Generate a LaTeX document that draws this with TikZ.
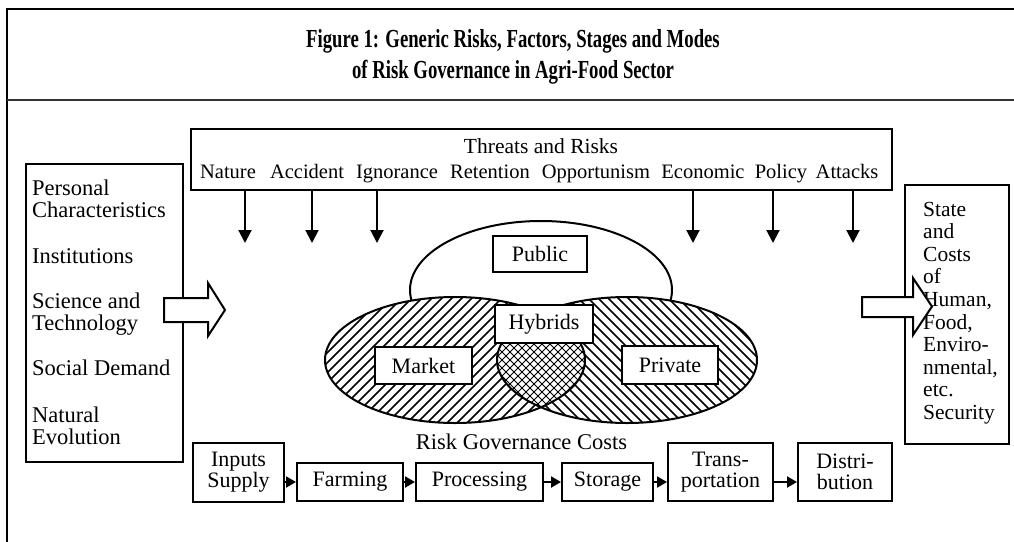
\documentclass[tikz,border=0pt]{standalone}
\usepackage{fontspec}
\setmainfont{Liberation Serif}
\usetikzlibrary{arrows.meta}
\begin{document}
\begin{tikzpicture}[x=1pt,y=-1pt,
  frameline/.style={line width=2pt},
  boxed/.style={draw, line width=2pt, inner sep=0pt, fill=white},
  lbl/.style={font=\fontsize{22}{22}\selectfont, inner sep=0pt},
  sidetext/.style={font=\fontsize{22.5}{22.5}\selectfont, inner sep=0pt, anchor=base west},
  item/.style={font=\fontsize{20.5}{20.5}\selectfont, inner sep=0pt, anchor=base},
  titletext/.style={font=\bfseries\fontsize{26}{26}\selectfont, inner sep=0pt, anchor=base},
  stagebox/.style={boxed, font=\fontsize{22}{21}\selectfont, align=center},
  riskarrow/.style={line width=2pt, -{Triangle[length=13pt,width=13pt]}},
  flow/.style={line width=2pt, -{Triangle[length=10pt,width=11pt]}},
  hatch/.style={line width=1.5pt},
  xhatch/.style={line width=0.9pt},
  blockarrow/.style={draw, line width=2pt, fill=white, line join=miter},
  venn/.style={line width=2pt}]
\useasboundingbox (0,0) rectangle (1014,541);

% outer frame and title band
\draw[frameline] (7,560) -- (7,9) -- (1030,9);
\draw[line width=2.5pt, black!80] (7,100) -- (1030,100);
\node[titletext] (title1) at (513,47)
  {\scalebox{0.72}[1]{Figure 1: Generic Risks, Factors, Stages and Modes}};
\node[titletext] (title2) at (513,78)
  {\scalebox{0.72}[1]{of Risk Governance in Agri-Food Sector}};

% threats and risks
\node[boxed, minimum width=701pt, minimum height=61pt] (threats) at (541.5,159.5) {};
\node[item, font=\fontsize{21.5}{21.5}\selectfont] (thr) at (541,153) {Threats and Risks};
\foreach \w/\x [count=\i] in {Nature/228, Accident/307, Ignorance/397, Retention/490,
    Opportunism/596, Economic/703, Policy/781, Attacks/847}
  \node[item] (risk\i) at (\x,178) {\w};
\foreach \x [count=\i] in {245,312,377,693,773,853} {
  \coordinate (tip\i) at (\x,243);
  \draw[riskarrow] (threats.south -| tip\i) -- (tip\i);
}

% factors
\node[boxed, minimum width=157pt, minimum height=298pt] (factors) at (104.5,313) {};
\node[sidetext] (f1) at (32,195) {Personal};
\node[sidetext] (f2) at (32,217) {Characteristics};
\node[sidetext] (f3) at (32,263) {Institutions};
\node[sidetext] (f4) at (32,308) {Science and};
\node[sidetext] (f5) at (32,330) {Technology};
\node[sidetext] (f6) at (32,375) {Social Demand};
\node[sidetext] (f7) at (32,422) {Natural};
\node[sidetext] (f8) at (32,444) {Evolution};

% outcomes
\node[boxed, minimum width=104pt, minimum height=259pt] (outcome) at (957,314.5) {};
\foreach \t [count=\i] in {State, and, Costs, of, {Human,}, {Food,}, Enviro-,
    {nmental,}, etc., Security}
  \node[sidetext, font=\fontsize{21.5}{21.5}\selectfont] (o\i) at (923,{216+22.6*(\i-1)}) {\t};

% block arrows
\draw[blockarrow] (164,298) -- (208,298) -- (208,283) -- (225,310) -- (208,336)
  -- (208,322) -- (164,322) -- cycle;
\draw[blockarrow] (862,297) -- (913,297) -- (913,278) -- (932,306.5) -- (913,335)
  -- (913,317) -- (862,317) -- cycle;

% modes of governance
\draw[venn, fill=white] (541,290) ellipse [x radius=131pt, y radius=69pt];
\begin{scope}
  \clip (455,360) ellipse [x radius=130pt, y radius=63pt];
  \fill[white] (300,280) rectangle (600,440);
  \foreach \i in {0,...,45} \draw[hatch] ({180+10*\i},430) -- ++(140,-140);
\end{scope}
\begin{scope}
  \clip (627,360) ellipse [x radius=130pt, y radius=63pt];
  \fill[white] (480,280) rectangle (780,440);
  \foreach \i in {0,...,45} \draw[hatch] ({350+10*\i},290) -- ++(140,140);
\end{scope}
\begin{scope}
  \clip (455,360) ellipse [x radius=130pt, y radius=63pt];
  \clip (627,360) ellipse [x radius=130pt, y radius=63pt];
  \fill[white] (480,280) rectangle (600,440);
  \foreach \i in {0,...,30} {
    \draw[xhatch] ({400+8*\i},430) -- ++(140,-140);
    \draw[xhatch] ({400+8*\i},290) -- ++(140,140);
  }
\end{scope}
\draw[venn] (455,360) ellipse [x radius=130pt, y radius=63pt];
\draw[venn] (627,360) ellipse [x radius=130pt, y radius=63pt];
\node[boxed, lbl, minimum width=94pt, minimum height=36pt] (public) at (540,254) {Public};
\node[boxed, lbl, minimum width=98pt, minimum height=38pt] (hybrids) at (544,324) {Hybrids};
\node[boxed, lbl, minimum width=97pt, minimum height=37pt] (market) at (423.5,365.5) {Market};
\node[boxed, lbl, minimum width=96pt, minimum height=38pt] (private) at (670,365) {Private};

% stages
\node[item, font=\fontsize{22.5}{22.5}\selectfont] (costs) at (521.5,449) {Risk Governance Costs};
\node[stagebox, minimum width=91pt, minimum height=59pt] (inputs) at (238.5,472.5) {Inputs\\Supply};
\node[stagebox, minimum width=106pt, minimum height=38pt] (farming) at (350,482) {Farming};
\node[stagebox, minimum width=127pt, minimum height=38pt] (processing) at (479.5,482) {Processing};
\node[stagebox, minimum width=91pt, minimum height=38pt] (storage) at (607.5,482) {Storage};
\node[stagebox, minimum width=105pt, minimum height=58pt] (transport) at (720.5,472) {Trans-\\portation};
\node[stagebox, minimum width=94pt, minimum height=58pt] (distribution) at (845,472) {Distri-\\bution};
\draw[flow] (inputs.east |- farming.west) -- (farming.west);
\draw[flow] (farming.east) -- (processing.west);
\draw[flow] (processing.east) -- (storage.west);
\draw[flow] (storage.east) -- (transport.west |- storage.east);
\draw[flow] (transport.east |- storage.east) -- (distribution.west |- storage.east);
\end{tikzpicture}
\end{document}
